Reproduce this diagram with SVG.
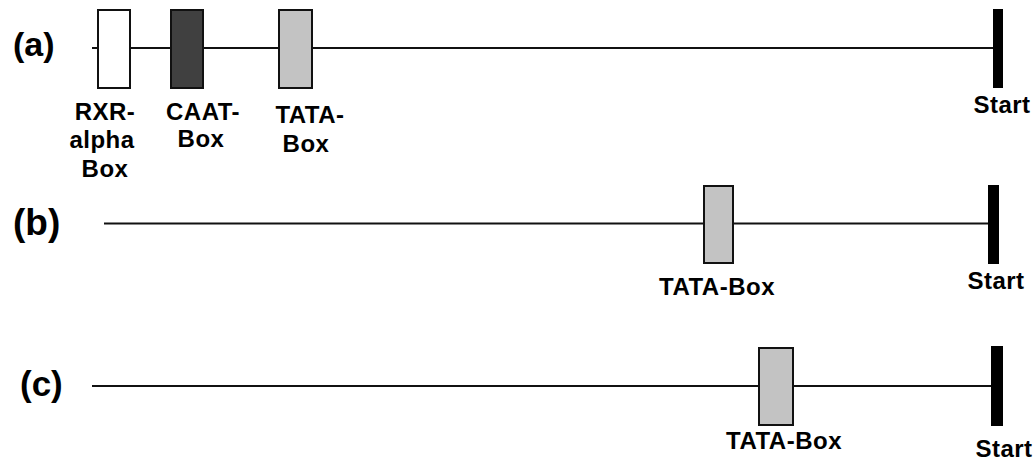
<svg xmlns="http://www.w3.org/2000/svg" width="1036" height="461" viewBox="0 0 1036 461">
  <style>
    .lbl { font-family: "Liberation Sans", Arial, sans-serif; font-weight: bold; fill: #000; }
    .row { font-size: 34px; }
    .txt { font-size: 24px; letter-spacing: 0.5px; text-anchor: middle; }
    .dna { stroke: #111; stroke-width: 2; fill: none; }
    .box { stroke: #111; stroke-width: 2; }
    .white { fill: #ffffff; }
    .dark { fill: #404040; }
    .light { fill: #c3c3c3; }
    .start { fill: #000; }
  </style>
  <rect width="1036" height="461" fill="#ffffff"/>

  <!-- promoter backbones -->
  <g id="connectors">
    <line class="dna" x1="92" y1="48" x2="994" y2="48"/>
    <line class="dna" x1="104" y1="223.5" x2="989" y2="223.5"/>
    <line class="dna" x1="92" y1="386" x2="992" y2="386"/>
  </g>

  <!-- (a) -->
  <g id="label-a"><text class="lbl row" x="13" y="56">(a)</text></g>
  <g id="a-rxr">
    <rect class="box white" x="98" y="10" width="32" height="78"/>
    <text class="lbl txt" x="105" y="120">RXR-</text>
    <text class="lbl txt" x="102" y="148">alpha</text>
    <text class="lbl txt" x="105" y="177">Box</text>
  </g>
  <g id="a-caat">
    <rect class="box dark" x="171" y="10" width="32" height="78"/>
    <text class="lbl txt" x="203" y="120">CAAT-</text>
    <text class="lbl txt" x="201" y="147">Box</text>
  </g>
  <g id="a-tata">
    <rect class="box light" x="279" y="10" width="33" height="78"/>
    <text class="lbl txt" x="310" y="123">TATA-</text>
    <text class="lbl txt" x="306" y="152">Box</text>
  </g>
  <g id="a-start">
    <rect class="start" x="993" y="9" width="10" height="79"/>
    <text class="lbl txt" x="1002" y="113">Start</text>
  </g>

  <!-- (b) -->
  <g id="label-b"><text class="lbl row" x="13" y="235" style="font-size:37px">(b)</text></g>
  <g id="b-tata">
    <rect class="box light" x="704" y="186" width="29" height="77"/>
    <text class="lbl txt" x="717" y="295">TATA-Box</text>
  </g>
  <g id="b-start">
    <rect class="start" x="988" y="185" width="11" height="79"/>
    <text class="lbl txt" x="996" y="289">Start</text>
  </g>

  <!-- (c) -->
  <g id="label-c"><text class="lbl row" x="20" y="396" style="font-size:35px">(c)</text></g>
  <g id="c-tata">
    <rect class="box light" x="759" y="348" width="34" height="77"/>
    <text class="lbl txt" x="784" y="449">TATA-Box</text>
  </g>
  <g id="c-start">
    <rect class="start" x="991" y="346" width="12" height="80"/>
    <text class="lbl txt" x="1004" y="457">Start</text>
  </g>
</svg>
